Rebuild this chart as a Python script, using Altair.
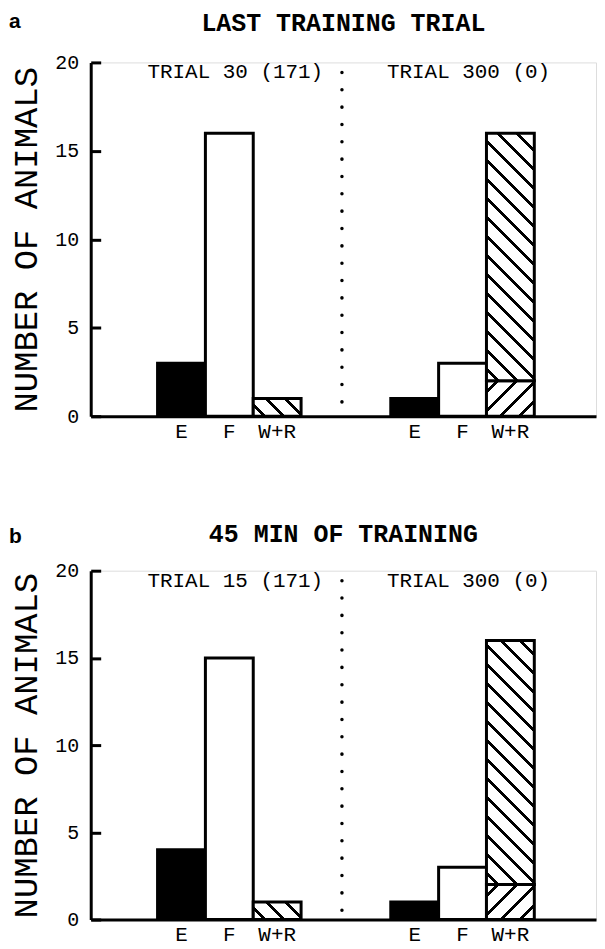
import math
import altair as alt
import pandas as pd

# ---------------- data ----------------
COMPONENTS = ["E", "F", "R", "W"]            # R = lower "/" hatch, W = "\" hatch
COMPONENT_CATEGORY = ["E", "F", "W+R", "W+R"]
CATEGORIES = ["E", "F", "W+R"]
Y_TICKS = [0, 5, 10, 15, 20]

PANEL_A_LETTER = "a"
PANEL_A_TITLE = "LAST TRAINING TRIAL"
PANEL_A_GROUPS = ["TRIAL 30 (171)", "TRIAL 300 (0)"]
PANEL_A_LEFT = [3, 16, 0, 1]
PANEL_A_RIGHT = [1, 3, 2, 14]

PANEL_B_LETTER = "b"
PANEL_B_TITLE = "45 MIN OF TRAINING"
PANEL_B_GROUPS = ["TRIAL 15 (171)", "TRIAL 300 (0)"]
PANEL_B_LEFT = [4, 15, 0, 1]
PANEL_B_RIGHT = [1, 3, 2, 14]

# ---------------- geometry / style ----------------
W = 507
PAD_INNER, PAD_OUTER, ALIGN = 0.3846, 0.2756, 0.52
STEP = W / (2 - PAD_INNER + 2 * PAD_OUTER)
BAR_W = STEP * (1 - PAD_INNER) / 3
SPACING, LW = 13.5, 2.8
MONO = "Liberation Mono"


def hatch(value, kind, unit):
    w, h = BAR_W, value * unit
    if kind == "back":      # "\" lines
        x1, y1, vx, vy = 0.0, 1.0, w, -h
    else:                   # "/" lines
        x1, y1, vx, vy = 0.0, 0.0, w, h
    t = (w + h) / (w * w + h * h)
    x2, y2 = x1 + t * vx, y1 + t * vy
    L = (w + h) / math.sqrt(2)
    stops = [alt.GradientStop(offset=0, color="white")]
    c = SPACING * 0.6
    while c - LW / 2 < L:
        a = round(max(0.0, (c - LW / 2) / L), 5)
        b = round(min(1.0, (c + LW / 2) / L), 5)
        stops += [alt.GradientStop(offset=a, color="white"),
                  alt.GradientStop(offset=a, color="black"),
                  alt.GradientStop(offset=b, color="black"),
                  alt.GradientStop(offset=b, color="white")]
        c += SPACING
    stops.append(alt.GradientStop(offset=1, color="white"))
    return alt.LinearGradient(gradient="linear", stops=stops,
                              x1=x1, y1=y1, x2=round(x2, 5), y2=round(y2, 5))


def panel(letter, title, groups, left, right, letter_y, title_y, H):
    unit = H / 20.0
    rows = []
    for g, vals in zip(groups, [left, right]):
        for i, (comp, cat, v) in enumerate(zip(COMPONENTS, COMPONENT_CATEGORY, vals)):
            rows.append(dict(group=g, cat=cat, comp=comp, order=i, value=v))
    df = pd.DataFrame(rows)

    xscale = alt.Scale(domain=groups, paddingInner=PAD_INNER, paddingOuter=PAD_OUTER,
                       align=ALIGN)
    xaxis = alt.Axis(labels=False, ticks=False, title=None, domainWidth=3,
                     domainColor="black", grid=False)
    x = alt.X("group:N", scale=xscale, axis=xaxis)
    xo = alt.XOffset("cat:N", scale=alt.Scale(domain=CATEGORIES, paddingInner=0, paddingOuter=0))
    y = alt.Y("v1:Q", scale=alt.Scale(domain=[0, 20], nice=False),
              axis=alt.Axis(values=Y_TICKS, tickSize={"expr": "-10"}, tickWidth=3,
                            tickColor="black", domainWidth=3, domainColor="black",
                            labelFont=MONO, labelFontSize=20, labelColor="black",
                            labelPadding=22, labelFlush=False, labelOverlap=False,
                            titleFont=MONO, titleFontSize=34, titleFontWeight="normal",
                            titleColor="black", titlePadding=11, grid=False,
                            title="NUMBER OF ANIMALS"))

    base = alt.Chart(df).transform_filter(alt.datum.value > 0).transform_stack(
        stack="value", groupby=["group", "cat"], as_=["v0", "v1"],
        sort=[alt.SortField("order")])
    enc = dict(x=x, xOffset=xo, y=y, y2="v0:Q")

    layers = [
        base.transform_filter(alt.datum.comp == "E").mark_bar(
            fill="black", stroke="black", strokeWidth=3).encode(**enc),
        base.transform_filter(alt.datum.comp == "F").mark_bar(
            fill="white", stroke="black", strokeWidth=3).encode(**enc),
    ]
    for g, vals in zip(groups, [left, right]):
        for comp, v in zip(COMPONENTS, vals):
            if comp in ("R", "W") and v > 0:
                grad = hatch(v, "fwd" if comp == "R" else "back", unit)
                layers.append(
                    base.transform_filter((alt.datum.comp == comp) & (alt.datum.group == g))
                    .mark_bar(fill=grad, stroke="black", strokeWidth=3).encode(**enc))

    lab = pd.DataFrame([dict(group=g, cat=c) for g in groups for c in CATEGORIES])
    layers.append(alt.Chart(lab).mark_text(font=MONO, fontSize=21, baseline="middle",
                                           color="black")
                  .encode(x=x, xOffset=xo, text="cat:N", y=alt.value(H + 16)))
    grp = pd.DataFrame({"group": groups})
    layers.append(alt.Chart(grp).mark_text(font=MONO, fontSize=21, baseline="middle",
                                           color="black", dx=6)
                  .encode(x=x, text="group:N", y=alt.value(10)))
    sep = pd.DataFrame({"group": [groups[1]]})
    layers.append(alt.Chart(sep).mark_rule(strokeDash=[0.1, 17.3], strokeCap="round",
                                           strokeWidth=3.5, color="black", xOffset=-49)
                  .encode(x=alt.X("group:N", bandPosition=0, scale=xscale, axis=xaxis),
                          y=alt.value(10), y2=alt.value(H)))
    let = pd.DataFrame({"t": [letter]})
    layers.append(alt.Chart(let).mark_text(font="Liberation Sans", fontWeight="bold",
                                           fontSize=21, align="left", baseline="middle",
                                           color="black")
                  .encode(text="t:N", x=alt.value(-82), y=alt.value(letter_y)))
    tt = pd.DataFrame({"t": [title]})
    layers.append(alt.Chart(tt).mark_text(font=MONO, fontWeight="bold", fontSize=25,
                                          align="center", baseline="middle",
                                          color="black")
                  .encode(text="t:N", x=alt.value(W / 2), y=alt.value(title_y)))

    return alt.layer(*layers).properties(width=W, height=H)


pa = panel(PANEL_A_LETTER, PANEL_A_TITLE, PANEL_A_GROUPS, PANEL_A_LEFT, PANEL_A_RIGHT,
           -41, -40, 355)
pb = panel(PANEL_B_LETTER, PANEL_B_TITLE, PANEL_B_GROUPS, PANEL_B_LEFT, PANEL_B_RIGHT,
           -34, -37, 350)

chart = alt.vconcat(pa, pb, spacing=78).properties(
    padding={"left": 0, "top": 0, "right": 0, "bottom": 0}
).configure_view(stroke=None).configure(background="white")

chart.save("out.html", embed_options={"renderer": "svg", "actions": False})
